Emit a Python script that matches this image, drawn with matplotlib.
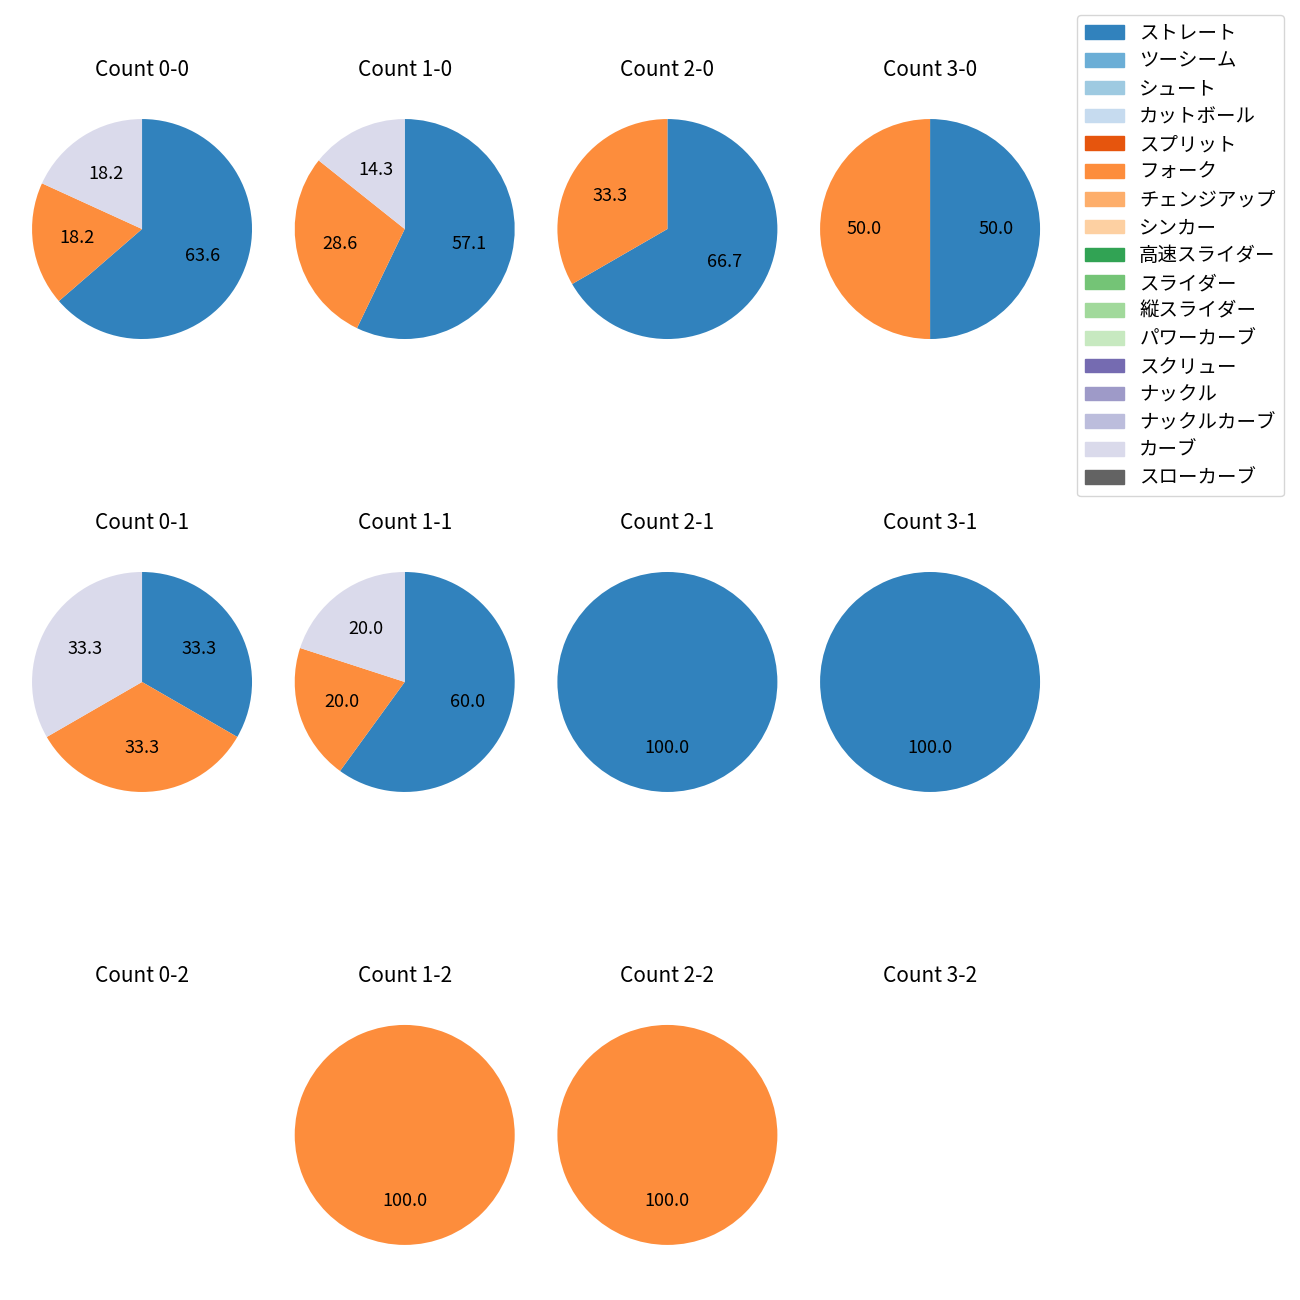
import numpy as np
import matplotlib
matplotlib.use("Agg")
import matplotlib.pyplot as plt
from matplotlib.patches import Patch

plt.rcParams['font.family'] = ['Noto Sans CJK JP', 'DejaVu Sans']

pitch_types = ['ストレート', 'ツーシーム', 'シュート', 'カットボール', 'スプリット', 'フォーク',
               'チェンジアップ', 'シンカー', '高速スライダー', 'スライダー', '縦スライダー',
               'パワーカーブ', 'スクリュー', 'ナックル', 'ナックルカーブ', 'カーブ', 'スローカーブ']
colors = list(plt.cm.tab20c.colors[:17])

# pitch counts per ball-strike count: (ストレート, フォーク, カーブ)
used = ['ストレート', 'フォーク', 'カーブ']
counts = {
    '0-0': [7, 2, 2],
    '1-0': [4, 2, 1],
    '2-0': [2, 1, 0],
    '3-0': [1, 1, 0],
    '0-1': [1, 1, 1],
    '1-1': [3, 1, 1],
    '2-1': [2, 0, 0],
    '3-1': [1, 0, 0],
    '0-2': [0, 0, 0],
    '1-2': [0, 1, 0],
    '2-2': [0, 1, 0],
    '3-2': [0, 0, 0],
}

fig, axes = plt.subplots(3, 4, figsize=(13, 13))
plt.subplots_adjust(left=0.0035, right=0.8212, top=0.9296, bottom=0.0212, wspace=-0.0447, hspace=0.647)

for strikes in range(3):
    for balls in range(4):
        ax = axes[strikes, balls]
        key = f'{balls}-{strikes}'
        vals = np.array(counts[key])
        ax.set_title(f'Count {key}', fontsize=15, pad=11)
        if vals.sum() == 0:
            ax.axis('off')
            continue
        mask = vals > 0
        cols = [colors[pitch_types.index(p)] for p, m in zip(used, mask) if m]
        ax.pie(vals[mask], colors=cols, startangle=90, counterclock=False,
               autopct='%.1f', textprops={'fontsize': 13})

handles = [Patch(color=c, label=p) for p, c in zip(pitch_types, colors)]
fig.legend(handles=handles, loc='upper left', bbox_to_anchor=(0.821, 0.9959),
           fontsize=14, labelspacing=0.35)

plt.savefig('out.png', dpi=100)
